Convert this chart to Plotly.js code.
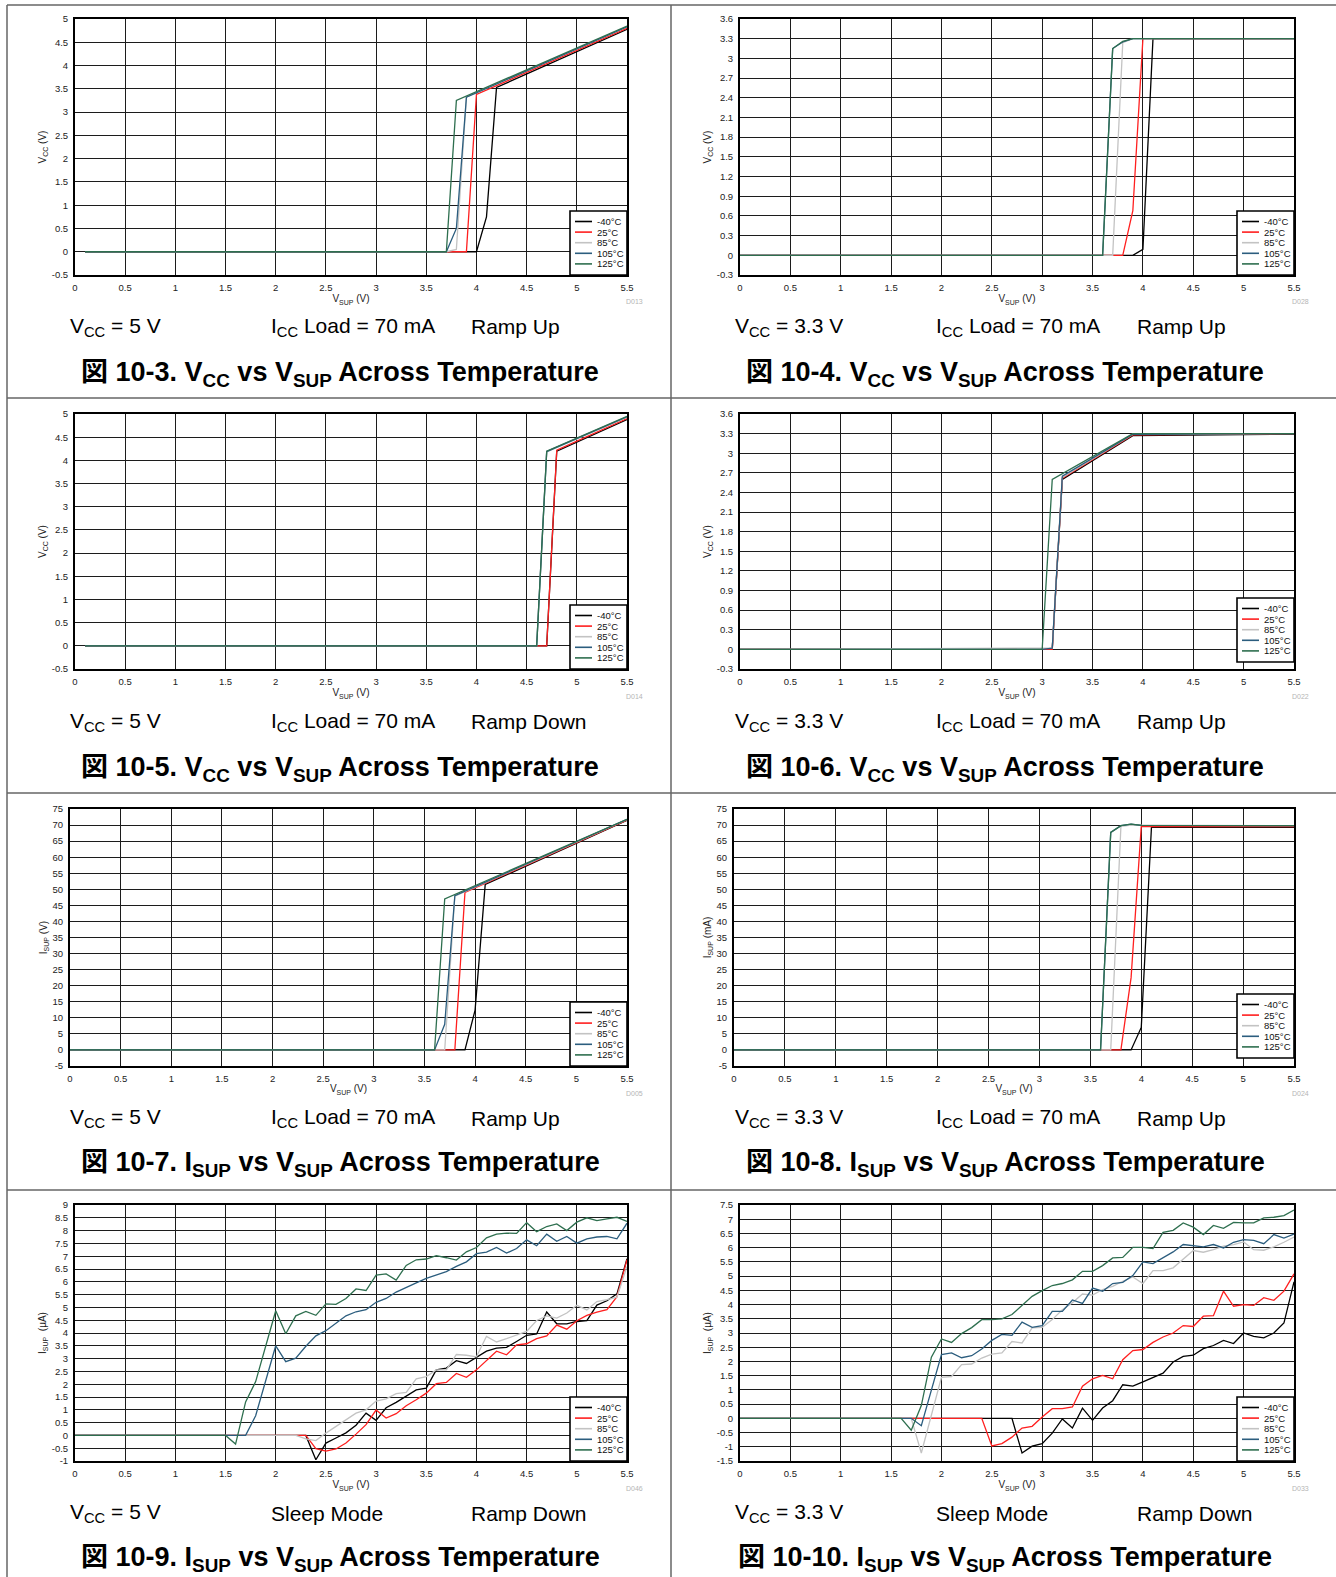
<!DOCTYPE html>
<html><head><meta charset="utf-8">
<script src="https://cdn.plot.ly/plotly-3.0.1.min.js"></script>
<style>html,body{margin:0;padding:0;background:#fff}#chart{width:1336px;height:1577px}</style>
</head><body><div id="chart"></div>
<script>
// ---------- categories / labels ----------
const temps = ['-40°C', '25°C', '85°C', '105°C', '125°C'];
const xTicks = [0, 0.5, 1, 1.5, 2, 2.5, 3, 3.5, 4, 4.5, 5, 5.5];
const yTicksVcc5 = [-0.5, 0, 0.5, 1, 1.5, 2, 2.5, 3, 3.5, 4, 4.5, 5];
const yTicksVcc33 = [-0.3, 0, 0.3, 0.6, 0.9, 1.2, 1.5, 1.8, 2.1, 2.4, 2.7, 3, 3.3, 3.6];
const yTicksIsupMA = [-5, 0, 5, 10, 15, 20, 25, 30, 35, 40, 45, 50, 55, 60, 65, 70, 75];
const yTicksSleep5 = [-1, -0.5, 0, 0.5, 1, 1.5, 2, 2.5, 3, 3.5, 4, 4.5, 5, 5.5, 6, 6.5, 7, 7.5, 8, 8.5, 9];
const yTicksSleep33 = [-1.5, -1, -0.5, 0, 0.5, 1, 1.5, 2, 2.5, 3, 3.5, 4, 4.5, 5, 5.5, 6, 6.5, 7, 7.5];

// ---------- Fig 10-3: VCC vs VSUP, VCC = 5 V, ramp up ----------
const f3_m40_x = [0.1, 4.0, 4.1, 4.2, 5.5];      const f3_m40_y = [0, 0, 0.75, 3.53, 4.78];
const f3_25_x  = [0.1, 3.9, 4.0, 5.5];           const f3_25_y  = [0, 0, 3.38, 4.80];
const f3_85_x  = [0.1, 3.7, 3.8, 3.9, 5.5];      const f3_85_y  = [0, 0, 0.05, 3.32, 4.83];
const f3_105_x = [0.1, 3.7, 3.8, 3.9, 5.5];      const f3_105_y = [0, 0, 0.5, 3.32, 4.83];
const f3_125_x = [0.1, 3.7, 3.8, 5.5];           const f3_125_y = [0, 0, 3.25, 4.85];

// ---------- Fig 10-4: VCC vs VSUP, VCC = 3.3 V, ramp up ----------
const f4_m40_x = [0, 3.9, 4.0, 4.1, 5.5];        const f4_m40_y = [0, 0, 0.09, 3.3, 3.3];
const f4_25_x  = [0, 3.8, 3.9, 4.0, 5.5];        const f4_25_y  = [0, 0, 0.68, 3.3, 3.3];
const f4_85_x  = [0, 3.7, 3.8, 3.9, 5.5];        const f4_85_y  = [0, 0, 3.24, 3.3, 3.3];
const f4_105_x = [0, 3.6, 3.7, 3.8, 3.9, 5.5];   const f4_105_y = [0, 0, 3.15, 3.25, 3.3, 3.3];
const f4_125_x = [0, 3.6, 3.7, 3.8, 3.9, 5.5];   const f4_125_y = [0, 0, 3.15, 3.26, 3.3, 3.3];

// ---------- Fig 10-5: VCC vs VSUP, VCC = 5 V, ramp down ----------
const f5_m40_x = [0.1, 4.7, 4.8, 5.5];           const f5_m40_y = [0, 0, 4.20, 4.88];
const f5_25_x  = [0.1, 4.7, 4.8, 5.5];           const f5_25_y  = [0, 0, 4.22, 4.90];
const f5_85_x  = [0.1, 4.6, 4.7, 5.5];           const f5_85_y  = [0, 0, 4.18, 4.93];
const f5_105_x = [0.1, 4.6, 4.7, 5.5];           const f5_105_y = [0, 0, 4.19, 4.94];
const f5_125_x = [0.1, 4.6, 4.7, 5.5];           const f5_125_y = [0, 0, 4.20, 4.95];

// ---------- Fig 10-6: VCC vs VSUP, VCC = 3.3 V, ramp up ----------
const f6_m40_x = [0, 3.1, 3.2, 3.9, 5.5];        const f6_m40_y = [0, 0, 2.60, 3.27, 3.29];
const f6_25_x  = [0, 3.1, 3.2, 3.9, 5.5];        const f6_25_y  = [0, 0, 2.62, 3.28, 3.3];
const f6_85_x  = [0, 3.1, 3.2, 3.9, 5.5];        const f6_85_y  = [0, 0.02, 2.63, 3.29, 3.3];
const f6_105_x = [0, 3.0, 3.1, 3.2, 3.9, 5.5];   const f6_105_y = [0, 0, 0.02, 2.65, 3.29, 3.3];
const f6_125_x = [0, 3.0, 3.1, 3.9, 5.5];        const f6_125_y = [0, 0, 2.60, 3.3, 3.3];

// ---------- Fig 10-7: ISUP vs VSUP, VCC = 5 V, ramp up ----------
const f7_m40_x = [0, 3.9, 4.0, 4.1, 5.5];        const f7_m40_y = [0, 0, 12.4, 51.5, 71.5];
const f7_25_x  = [0, 3.8, 3.9, 5.5];             const f7_25_y  = [0, 0, 49.0, 71.6];
const f7_85_x  = [0, 3.7, 3.8, 5.5];             const f7_85_y  = [0, 0, 47.9, 71.7];
const f7_105_x = [0, 3.6, 3.7, 3.8, 5.5];        const f7_105_y = [0, 0, 8.0, 48.0, 71.8];
const f7_125_x = [0, 3.6, 3.7, 5.5];             const f7_125_y = [0, 0, 47.0, 71.8];

// ---------- Fig 10-8: ISUP vs VSUP, VCC = 3.3 V, ramp up ----------
const f8_m40_x = [0, 3.9, 4.0, 4.1, 5.5];             const f8_m40_y = [0, 0, 7.0, 69.3, 69.3];
const f8_25_x  = [0, 3.8, 3.9, 4.0, 5.5];             const f8_25_y  = [0, 0, 22.5, 69.6, 69.5];
const f8_85_x  = [0, 3.7, 3.8, 3.9, 5.5];             const f8_85_y  = [0, 0, 69.6, 70.0, 69.8];
const f8_105_x = [0, 3.6, 3.7, 3.8, 3.9, 4.0, 5.5];   const f8_105_y = [0, 0, 67.7, 69.8, 70.3, 69.9, 69.8];
const f8_125_x = [0, 3.6, 3.7, 3.8, 3.9, 4.0, 5.5];   const f8_125_y = [0, 0, 67.7, 69.8, 70.3, 69.9, 69.8];

// ---------- sleep-mode sweeps (Fig 10-9, 10-10) ----------
const sweepV = [0, 1.5, 1.6, 1.7, 1.8, 1.9, 2.0, 2.1, 2.2, 2.3, 2.4, 2.5, 2.6, 2.7, 2.8, 2.9,
  3.0, 3.1, 3.2, 3.3, 3.4, 3.5, 3.6, 3.7, 3.8, 3.9, 4.0, 4.1, 4.2, 4.3, 4.4, 4.5, 4.6, 4.7,
  4.8, 4.9, 5.0, 5.1, 5.2, 5.3, 5.4, 5.5];

// Fig 10-9 (VCC = 5 V), µA
const f9_m40 = [0, 0, 0, 0, 0, 0, 0, 0, 0, 0, -0.95, -0.3, -0.1, 0.1, 0.4, 0.87,
  0.59, 1.08, 1.29, 1.52, 1.78, 1.85, 2.56, 2.63, 2.92, 2.81, 3.06, 3.29, 3.41, 3.44, 3.67, 3.91, 3.96, 4.82,
  4.36, 4.36, 4.45, 4.48, 5.09, 5.26, 5.53, 6.9];
const f9_25 = [0, 0, 0, 0, 0, 0, 0, 0, 0, 0, -0.52, -0.61, -0.53, -0.3, 0.05, 0.42,
  0.99, 0.68, 0.85, 1.16, 1.39, 1.65, 2.02, 2.07, 2.42, 2.27, 2.56, 2.93, 3.29, 3.15, 3.54, 3.58, 3.78, 3.89,
  4.31, 4.15, 4.48, 4.69, 4.82, 4.91, 5.42, 6.86];
const f9_85 = [0, 0, 0, 0, 0, 0, 0, 0, 0, -0.14, -0.2, 0.09, 0.35, 0.61, 0.87, 1.0,
  1.34, 1.43, 1.63, 1.68, 2.21, 2.3, 2.56, 2.56, 3.16, 3.13, 3.07, 3.87, 3.65, 3.78, 3.91, 4.06, 4.49, 4.67,
  4.58, 4.78, 5.08, 4.9, 5.23, 5.3, 5.4, 6.6];
const f9_105 = [0, 0, 0, 0, 0.77, 2.1, 3.5, 2.88, 3.02, 3.48, 3.89, 4.09, 4.39, 4.67, 4.83, 4.91,
  5.2, 5.35, 5.6, 5.79, 5.96, 6.13, 6.26, 6.4, 6.6, 6.78, 7.1, 7.16, 7.34, 7.12, 7.3, 7.64, 7.41, 7.86,
  7.58, 7.77, 7.51, 7.68, 7.75, 7.77, 7.68, 8.29];
const f9_125 = [0, 0, -0.34, 1.31, 2.1, 3.48, 4.87, 3.97, 4.67, 4.84, 4.69, 5.14, 5.12, 5.35, 5.72, 5.66,
  6.26, 6.31, 6.07, 6.64, 6.86, 6.89, 7.02, 6.94, 6.85, 7.17, 7.34, 7.72, 7.86, 7.9, 7.89, 8.31, 7.96, 8.16,
  8.26, 8.0, 8.33, 8.5, 8.39, 8.46, 8.52, 8.36];

// Fig 10-10 (VCC = 3.3 V), µA
const f10_m40 = [0, 0, 0, 0, 0, 0, 0, 0, 0, 0, 0, 0, 0, 0, -1.22, -0.98,
  -0.89, -0.52, -0.02, -0.34, 0.36, -0.07, 0.36, 0.62, 1.18, 1.13, 1.28, 1.44, 1.59, 1.98, 2.18, 2.22, 2.45, 2.56,
  2.74, 2.63, 3.0, 2.88, 2.83, 3.0, 3.35, 4.8];
const f10_25 = [0, 0, 0, 0, 0, 0, 0, 0, 0, 0, 0, -0.97, -0.89, -0.66, -0.34, -0.28,
  0.05, 0.34, 0.34, 0.4, 1.13, 1.39, 1.51, 1.39, 2.06, 2.38, 2.42, 2.67, 2.86, 3.0, 3.26, 3.23, 3.59, 3.61,
  4.47, 3.94, 4.0, 3.97, 4.24, 4.15, 4.47, 5.08];
const f10_85 = [0, 0, 0, 0, -1.22, 0.1, 1.44, 1.47, 1.89, 1.91, 2.12, 2.26, 2.3, 2.7, 2.65, 3.18,
  3.2, 3.47, 3.82, 4.06, 4.37, 4.33, 4.53, 4.64, 4.82, 4.97, 4.74, 5.19, 5.19, 5.29, 5.6, 5.9, 5.84, 5.93,
  6.05, 6.11, 6.2, 5.93, 5.91, 6.03, 6.19, 6.37];
const f10_105 = [0, 0, 0, 0, -0.26, 1.0, 2.24, 2.3, 2.13, 2.2, 2.44, 2.74, 2.95, 2.92, 3.38, 3.2,
  3.26, 3.76, 3.76, 4.16, 4.04, 4.58, 4.47, 4.74, 4.78, 5.02, 5.5, 5.44, 5.64, 5.85, 6.11, 6.08, 6.03, 6.11,
  5.99, 6.19, 6.28, 6.26, 6.14, 6.46, 6.34, 6.48];
const f10_125 = [0, 0, 0, -0.42, 0.45, 2.15, 2.79, 2.67, 2.98, 3.19, 3.47, 3.47, 3.5, 3.65, 3.97, 4.29,
  4.49, 4.67, 4.74, 4.87, 5.17, 5.17, 5.37, 5.64, 5.66, 6.01, 6.01, 5.97, 6.54, 6.61, 6.87, 6.72, 6.46, 6.78,
  6.68, 6.89, 6.87, 6.87, 7.05, 7.07, 7.13, 7.32];

// ---------- text ----------
const figTitles = [
  '図 10-3. V<sub>CC</sub> vs V<sub>SUP</sub> Across Temperature',
  '図 10-4. V<sub>CC</sub> vs V<sub>SUP</sub> Across Temperature',
  '図 10-5. V<sub>CC</sub> vs V<sub>SUP</sub> Across Temperature',
  '図 10-6. V<sub>CC</sub> vs V<sub>SUP</sub> Across Temperature',
  '図 10-7. I<sub>SUP</sub> vs V<sub>SUP</sub> Across Temperature',
  '図 10-8. I<sub>SUP</sub> vs V<sub>SUP</sub> Across Temperature',
  '図 10-9. I<sub>SUP</sub> vs V<sub>SUP</sub> Across Temperature',
  '図 10-10. I<sub>SUP</sub> vs V<sub>SUP</sub> Across Temperature'
];
const condVcc = ['V<sub>CC</sub> = 5 V', 'V<sub>CC</sub> = 3.3 V', 'V<sub>CC</sub> = 5 V', 'V<sub>CC</sub> = 3.3 V',
  'V<sub>CC</sub> = 5 V', 'V<sub>CC</sub> = 3.3 V', 'V<sub>CC</sub> = 5 V', 'V<sub>CC</sub> = 3.3 V'];
const condLoad = ['I<sub>CC</sub> Load = 70 mA', 'I<sub>CC</sub> Load = 70 mA', 'I<sub>CC</sub> Load = 70 mA',
  'I<sub>CC</sub> Load = 70 mA', 'I<sub>CC</sub> Load = 70 mA', 'I<sub>CC</sub> Load = 70 mA', 'Sleep Mode', 'Sleep Mode'];
const condRamp = ['Ramp Up', 'Ramp Up', 'Ramp Down', 'Ramp Up', 'Ramp Up', 'Ramp Up', 'Ramp Down', 'Ramp Down'];
const yTitles = ['V<sub>CC</sub> (V)', 'V<sub>CC</sub> (V)', 'V<sub>CC</sub> (V)', 'V<sub>CC</sub> (V)',
  'I<sub>SUP</sub> (V)', 'I<sub>SUP</sub> (mA)', 'I<sub>SUP</sub>  (µA)', 'I<sub>SUP</sub>  (µA)'];
const docCodes = ['D013', 'D028', 'D014', 'D022', 'D005', 'D024', 'D046', 'D033'];

// ---------- build ----------
const W = 1336, H = 1577;
const FONT = 'Liberation Sans, Arial, Noto Sans CJK JP, sans-serif';
const NARROW = 'Liberation Sans Narrow, Liberation Sans, Arial, sans-serif';
const lineColors = ['#000000', '#ff1f1f', '#c3c3c3', '#2b5d7e', '#2e6f4f'];

const panelSeries = [
  [[f3_m40_x, f3_m40_y], [f3_25_x, f3_25_y], [f3_85_x, f3_85_y], [f3_105_x, f3_105_y], [f3_125_x, f3_125_y]],
  [[f4_m40_x, f4_m40_y], [f4_25_x, f4_25_y], [f4_85_x, f4_85_y], [f4_105_x, f4_105_y], [f4_125_x, f4_125_y]],
  [[f5_m40_x, f5_m40_y], [f5_25_x, f5_25_y], [f5_85_x, f5_85_y], [f5_105_x, f5_105_y], [f5_125_x, f5_125_y]],
  [[f6_m40_x, f6_m40_y], [f6_25_x, f6_25_y], [f6_85_x, f6_85_y], [f6_105_x, f6_105_y], [f6_125_x, f6_125_y]],
  [[f7_m40_x, f7_m40_y], [f7_25_x, f7_25_y], [f7_85_x, f7_85_y], [f7_105_x, f7_105_y], [f7_125_x, f7_125_y]],
  [[f8_m40_x, f8_m40_y], [f8_25_x, f8_25_y], [f8_85_x, f8_85_y], [f8_105_x, f8_105_y], [f8_125_x, f8_125_y]],
  [[sweepV, f9_m40], [sweepV, f9_25], [sweepV, f9_85], [sweepV, f9_105], [sweepV, f9_125]],
  [[sweepV, f10_m40], [sweepV, f10_25], [sweepV, f10_85], [sweepV, f10_105], [sweepV, f10_125]]
];
const panelYTicks = [yTicksVcc5, yTicksVcc33, yTicksVcc5, yTicksVcc33, yTicksIsupMA, yTicksIsupMA, yTicksSleep5, yTicksSleep33];

// plot-area pixel boxes [left, right, top, bottom]
const boxes = [
  [75, 627, 19, 275], [740, 1294, 19, 275],
  [75, 627, 414, 669], [740, 1294, 414, 669],
  [70, 627, 809, 1066], [734, 1294, 809, 1066],
  [75, 627, 1205, 1461], [740, 1294, 1205, 1461]
];
const legendLift = [0, 0, 0, 7, 0, 8, 0, 0];
const capY = [327, 327, 722, 722, 1118, 1118, 1513, 1513];
const ttlY = [374, 374, 769, 769, 1164, 1164, 1559, 1559];

const px = v => v / W, py = v => 1 - v / H;
const traces = [], annotations = [], shapes = [];
const layout = {
  width: W, height: H, margin: {l: 0, r: 0, t: 0, b: 0},
  paper_bgcolor: '#fff', plot_bgcolor: '#fff',
  font: {family: FONT, color: '#000'}, showlegend: false, hovermode: false
};

panelSeries.forEach((series, i) => {
  const n = i + 1, sfx = n === 1 ? '' : String(n);
  const [l, r, t, b] = boxes[i];
  const leftCol = (i % 2 === 0);
  series.forEach(([xs, ys], k) => {
    traces.push({
      type: 'scatter', mode: 'lines', x: xs, y: ys, name: temps[k],
      xaxis: 'x' + sfx, yaxis: 'y' + sfx,
      line: {color: lineColors[k], width: 1.3}
    });
  });
  const yt = panelYTicks[i];
  const common = {
    showgrid: true, gridcolor: '#1c1c1c', gridwidth: 1, zeroline: false,
    showline: true, mirror: true, linecolor: '#000', linewidth: 2, ticks: '',
    tickfont: {family: NARROW, size: 9.5, color: '#222'}, fixedrange: true
  };
  layout['xaxis' + sfx] = Object.assign({}, common, {
    domain: [px(l), px(r)], anchor: 'y' + sfx, range: [0, 5.5],
    tickmode: 'array', tickvals: xTicks, ticktext: xTicks.map(String), ticklabelstandoff: 3,
    title: {text: 'V<sub>SUP</sub> (V)', font: {family: NARROW, size: 10, color: '#222'}, standoff: 2}
  });
  layout['yaxis' + sfx] = Object.assign({}, common, {
    domain: [py(b), py(t)], anchor: 'x' + sfx, range: [yt[0], yt[yt.length - 1]],
    tickmode: 'array', tickvals: yt, ticktext: yt.map(String), ticklabelstandoff: 3,
    title: {text: yTitles[i], font: {family: NARROW, size: 10, color: '#222'}, standoff: 3}
  });

  // compact legend box (bottom-right, inside plot)
  const lb = b - legendLift[i], lr = r, lt = lb - 64, ll = lr - 57;
  shapes.push({type: 'rect', xref: 'paper', yref: 'paper', layer: 'above',
    x0: px(ll), x1: px(lr), y0: py(lb), y1: py(lt),
    fillcolor: '#fff', line: {color: '#000', width: 1.6}});
  temps.forEach((name, k) => {
    const yy = lt + 10.5 + k * 10.6;
    shapes.push({type: 'line', xref: 'paper', yref: 'paper', layer: 'above',
      x0: px(ll + 5), x1: px(ll + 22), y0: py(yy), y1: py(yy),
      line: {color: lineColors[k], width: 1.6}});
    annotations.push({xref: 'paper', yref: 'paper', x: px(ll + 25), y: py(yy),
      xanchor: 'left', yanchor: 'middle', showarrow: false, text: name,
      font: {family: NARROW, size: 9.5, color: '#111'}});
  });

  const cx = leftCol ? [68, 269, 469] : [733, 934, 1135];
  [condVcc[i], condLoad[i], condRamp[i]].forEach((txt, j) => {
    annotations.push({xref: 'paper', yref: 'paper', x: px(cx[j]), y: py(capY[i]),
      xanchor: 'left', yanchor: 'middle', showarrow: false, text: txt,
      font: {family: FONT, size: 21, color: '#000'}});
  });
  annotations.push({xref: 'paper', yref: 'paper', x: px(leftCol ? 340 : 1005), y: py(ttlY[i]),
    xanchor: 'center', yanchor: 'middle', showarrow: false, text: '<b>' + figTitles[i] + '</b>',
    font: {family: FONT, size: 27, color: '#000'}});
  annotations.push({xref: 'paper', yref: 'paper', x: px(leftCol ? 634 : 1300), y: py(b + 27),
    xanchor: 'center', yanchor: 'middle', showarrow: false, text: docCodes[i],
    font: {family: NARROW, size: 7, color: '#b5b5b5'}});
});

// panel frame lines
[5, 398, 793, 1190].forEach(yy => shapes.push({type: 'line', xref: 'paper', yref: 'paper',
  x0: px(7), x1: 1, y0: py(yy), y1: py(yy), line: {color: '#666', width: 1.5}}));
[7, 671].forEach(xx => shapes.push({type: 'line', xref: 'paper', yref: 'paper',
  x0: px(xx), x1: px(xx), y0: py(5), y1: 0, line: {color: '#666', width: 1.5}}));

layout.annotations = annotations;
layout.shapes = shapes;
Plotly.newPlot('chart', traces, layout, {staticPlot: true, displayModeBar: false});
</script></body></html>
